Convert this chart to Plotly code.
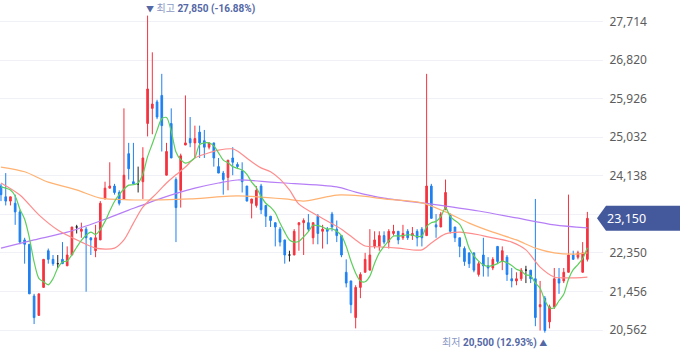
import plotly.graph_objects as go
import pandas as pd

# ---------------- data ----------------
opens = [23900, 23650, 23550, 23500, 23300, 22650, 22550, 21350, 20900, 21550,
         22400, 22200, 22100, 22200, 22050, 22300, 22950, 22850, 22900, 22700,
         22400, 22650, 23600, 23850, 23900, 23750, 23600, 24650, 24000, 23950,
         24000, 25350, 25700, 25850, 26000, 24150, 25350, 24050, 23800, 24850,
         25000, 24900, 25150, 24950, 24800, 24900, 24350, 24200, 24100, 24550,
         24400, 24250, 23900, 23500, 23450, 23900, 23450, 23200, 23050, 22900,
         22650, 22300, 22300, 23000, 23050, 23050, 22700, 23200, 22850, 22900,
         23250, 22900, 22750, 21900, 21700, 20850, 21550, 21900, 21950, 22500,
         22500, 22750, 22600, 22800, 22850, 22700, 22850, 22750, 22850, 22900,
         22750, 23900, 23000, 22950, 23350, 23250, 22950, 22700, 22450, 22350,
         22350, 21850, 22300, 22050, 22000, 22500, 22150, 22250, 21750, 21700,
         21750, 21950, 21950, 21750, 21100, 21300, 20750, 21100, 21750, 21700,
         21900, 22300, 22250, 21900, 22200]
highs = [23950, 24200, 23650, 23700, 23350, 22700, 22550, 21400, 21400, 22200,
         22450, 22300, 22300, 22600, 22500, 22950, 23000, 23050, 22950, 22700,
         23000, 23550, 24000, 24450, 23950, 23800, 25700, 24900, 24900, 24350,
         24800, 27850, 27000, 25900, 26500, 24900, 25700, 24100, 24650, 26000,
         25500, 25300, 25300, 25200, 24900, 24900, 24550, 24250, 24500, 24800,
         24450, 24450, 23900, 23600, 23900, 23950, 23450, 23200, 23050, 22950,
         22650, 22400, 22900, 23050, 23150, 23250, 23050, 23250, 23000, 22950,
         23300, 23100, 22750, 22200, 21700, 21600, 21900, 22350, 22900, 22850,
         22850, 22850, 22900, 23000, 22850, 23000, 22900, 22950, 22900, 22950,
         26500, 23950, 23250, 23300, 24050, 23250, 22950, 22700, 22500, 22350,
         22350, 22150, 22700, 22250, 22250, 22500, 22500, 22300, 22000, 21900,
         22000, 22050, 21950, 23600, 21700, 21350, 21150, 22000, 22000, 22000,
         23700, 22400, 22400, 22600, 23300]
lows = [23550, 23450, 23450, 23000, 22550, 22100, 21400, 20700, 20900, 21550,
        22100, 22050, 22000, 22100, 22050, 22300, 22800, 22700, 21450, 22300,
        22250, 22650, 23600, 23850, 23700, 23450, 23600, 24050, 23950, 23750,
        23600, 25050, 25100, 25450, 24700, 24150, 24550, 22600, 23400, 24850,
        24800, 24550, 24550, 24550, 24750, 24350, 24200, 23700, 23800, 24150,
        24300, 23750, 23550, 23150, 23400, 23250, 22950, 22950, 22500, 22500,
        22100, 22150, 22300, 22400, 22300, 22850, 22550, 22550, 22450, 22550,
        22850, 22600, 22250, 21550, 20950, 20600, 21300, 21900, 21950, 22450,
        22400, 22550, 22450, 22750, 22550, 22650, 22650, 22650, 22500, 22500,
        22750, 23150, 22700, 22950, 23350, 22800, 22600, 22250, 22050, 22000,
        21900, 21800, 21800, 21800, 21950, 22100, 21950, 21700, 21550, 21600,
        21700, 21650, 21650, 20650, 20550, 20500, 20600, 21050, 21400, 21650,
        21900, 22200, 22200, 21900, 22150]
closes = [23700, 23550, 23650, 23300, 22600, 22550, 21400, 20850, 21400, 22200,
          22200, 22100, 22100, 22100, 22300, 22950, 22950, 22900, 22700, 22650,
          22700, 23500, 23850, 23900, 23750, 23500, 24150, 24300, 23950, 23950,
          24550, 26150, 25800, 25500, 25300, 24700, 24550, 23400, 24600, 24900,
          24900, 25000, 24900, 24800, 24900, 24550, 24200, 24050, 24500, 24450,
          24350, 24000, 23550, 23600, 23800, 23350, 23200, 23100, 22950, 22600,
          22300, 22300, 22850, 23050, 23100, 22900, 23050, 22800, 22900, 22850,
          22950, 22750, 22300, 21650, 21150, 21550, 21850, 22200, 22300, 22650,
          22750, 22600, 22850, 22850, 22650, 22800, 22700, 22800, 22700, 22700,
          23900, 23150, 22950, 23250, 23750, 22850, 22700, 22500, 22150, 22100,
          21950, 22100, 22050, 22000, 22200, 22150, 22400, 21850, 21700, 21750,
          21950, 21950, 21750, 20850, 21150, 20550, 21100, 21750, 21650, 21900,
          22300, 22200, 22350, 22350, 23150]

# first four 5-day MA values (need closes from before the visible window)
ma5_head = [23880, 23850, 23810, 23670]

# 20 / 60 / 120-day moving averages (candle index, price)
ma20_idx = [0, 4, 8, 12, 17, 20, 24, 26, 28, 30, 33, 35, 37, 39, 41, 44, 46, 49, 50,
            53, 55, 57, 59, 61, 63, 67, 72, 75, 77, 80, 84, 89, 91, 94, 97, 101,
            103, 108, 111, 114, 117, 120, 124]
ma20_val = [23970, 23690, 23230, 22880, 22600, 22460, 22460, 22650, 23040, 23410,
            23740, 23970, 24160, 24340, 24550, 24670, 24730, 24760, 24710, 24460,
            24320, 24230, 24060, 23810, 23480, 23210, 22900, 22650, 22510, 22490,
            22460, 22420, 22580, 22790, 22830, 22770, 22720, 22600, 22420, 22020,
            21790, 21770, 21790]
ma60_idx = [0, 5, 10, 16, 21, 27, 34, 40, 50, 60, 64, 71, 76, 81, 89, 94, 99, 104,
            109, 113, 117, 121, 124]
ma60_val = [24340, 24230, 23990, 23810, 23620, 23580, 23580, 23600, 23670, 23600,
            23550, 23690, 23670, 23600, 23510, 23300, 23040, 22830, 22650, 22460,
            22350, 22320, 22350]
ma120_idx = [0, 7, 14, 21, 27, 34, 41, 46, 50, 57, 60, 71, 75, 81, 91, 101, 109,
             117, 124]
ma120_val = [22460, 22650, 22830, 23090, 23340, 23620, 23850, 23970, 24040, 23990,
             23970, 23880, 23760, 23620, 23480, 23320, 23160, 23000, 22930]

# y-axis tick values (the 23,244 label sits under the last-price badge)
y_ticks = [20562, 21456, 22350, 23244, 24138, 25032, 25926, 26820, 27714]
hidden_tick = 23244

# ---------------- styling ----------------
UP = "#f4333f"
DOWN = "#1f80f0"
DOJI = "#222222"
C_MA5 = "#5ccf5c"
C_MA20 = "#ff8c8c"
C_MA60 = "#ffb272"
C_MA120 = "#b67ef6"
BADGE = "#44599c"
NOTE = "#5468a6"
NOTE_LIGHT = "#8b98c4"

n = len(closes)
idx = list(range(n))

ma5 = pd.Series(closes, dtype=float).rolling(5).mean().tolist()
ma5[:4] = ma5_head

reg = [i for i in idx if opens[i] != closes[i]]
doj = [i for i in idx if opens[i] == closes[i]]

fig = go.Figure()

fig.add_trace(go.Candlestick(
    x=reg,
    open=[opens[i] for i in reg], high=[highs[i] for i in reg],
    low=[lows[i] for i in reg], close=[closes[i] for i in reg],
    increasing=dict(line=dict(color=UP, width=1), fillcolor=UP),
    decreasing=dict(line=dict(color=DOWN, width=1), fillcolor=DOWN),
    whiskerwidth=0, showlegend=False, hoverinfo="skip"))

fig.add_trace(go.Candlestick(
    x=doj,
    open=[opens[i] for i in doj], high=[highs[i] for i in doj],
    low=[lows[i] for i in doj], close=[closes[i] for i in doj],
    increasing=dict(line=dict(color=DOJI, width=1), fillcolor=DOJI),
    decreasing=dict(line=dict(color=DOJI, width=1), fillcolor=DOJI),
    whiskerwidth=0, showlegend=False, hoverinfo="skip"))

for xs, ys, col in [(ma120_idx, ma120_val, C_MA120), (ma60_idx, ma60_val, C_MA60),
                    (ma20_idx, ma20_val, C_MA20), (idx, ma5, C_MA5)]:
    fig.add_trace(go.Scatter(x=xs, y=ys, mode="lines",
                             line=dict(color=col, width=1.2, shape="spline", smoothing=0.8),
                             showlegend=False, hoverinfo="skip"))

# max / min annotations
i_max = max(idx, key=lambda i: highs[i])
i_min = min(idx, key=lambda i: lows[i])
last = closes[-1]
pct_max = (last - highs[i_max]) / highs[i_max] * 100
pct_min = (last - lows[i_min]) / lows[i_min] * 100
NOTE_FONT = "Roboto, Noto Sans CJK KR, sans-serif"

fig.add_annotation(
    x=i_max, y=highs[i_max], xref="x", yref="y", xanchor="left", yanchor="middle",
    xshift=-4, yshift=7, showarrow=False,
    text=(f"<span style='font-size:8px'>▼</span> <span style='color:{NOTE_LIGHT}'>최고</span> "
          f"<b>{highs[i_max]:,} ({pct_max:.2f}%)</b>"),
    font=dict(family=NOTE_FONT, size=10, color=NOTE))

fig.add_annotation(
    x=i_min, y=lows[i_min], xref="x", yref="y", xanchor="right", yanchor="middle",
    xshift=4, yshift=-10, showarrow=False,
    text=(f"<span style='color:{NOTE_LIGHT}'>최저</span> "
          f"<b>{lows[i_min]:,} ({pct_min:.2f}%)</b> <span style='font-size:8px'>▲</span>"),
    font=dict(family=NOTE_FONT, size=10, color=NOTE))

# last price badge
fig.add_shape(type="path", xref="paper", yref="y", xsizemode="pixel", ysizemode="pixel",
              xanchor=1, yanchor=last,
              path="M -6,0 L 3,12.5 L 80,12.5 L 80,-12.5 L 3,-12.5 Z",
              fillcolor=BADGE, line=dict(width=0), layer="above")
fig.add_annotation(x=1, y=last, xref="paper", yref="y", xanchor="center", yanchor="middle",
                   xshift=23, showarrow=False, text=f"{last:,}",
                   font=dict(family="Noto Sans, sans-serif", size=12.5, color="white"))

# pixel mapping: 27714 at y=21.5 px, 20562 at y=330 px, plot height 358
ppx = (y_ticks[-1] - y_ticks[0]) / (330 - 21.5)
y_top = y_ticks[-1] + 21.5 * ppx
y_bot = y_ticks[0] - (358 - 330) * ppx

fig.update_layout(
    width=680, height=358,
    margin=dict(l=0, r=77, t=0, b=0),
    paper_bgcolor="white", plot_bgcolor="white",
    boxgap=0.5,
    xaxis=dict(range=[-0.21, 127.3], showgrid=False, zeroline=False, showticklabels=False,
               showline=False, ticks="", rangeslider=dict(visible=False), fixedrange=True),
    yaxis=dict(range=[y_bot, y_top], side="right", tickvals=y_ticks,
               ticktext=["" if v == hidden_tick else f"{v:,}" for v in y_ticks],
               showgrid=True, gridcolor="#f0f1f6", gridwidth=1, zeroline=False,
               showline=False, ticks="outside", ticklen=3, tickcolor="rgba(0,0,0,0)",
               tickfont=dict(family="Noto Sans, sans-serif", size=12, color="#5c5c5c"),
               fixedrange=True, automargin=False),
    font=dict(family="Noto Sans, sans-serif"),
)

fig.write_html("out.html",
               config={"displayModeBar": False, "staticPlot": True},
               post_script="document.body.style.margin='0px';document.body.style.overflow='hidden';")
